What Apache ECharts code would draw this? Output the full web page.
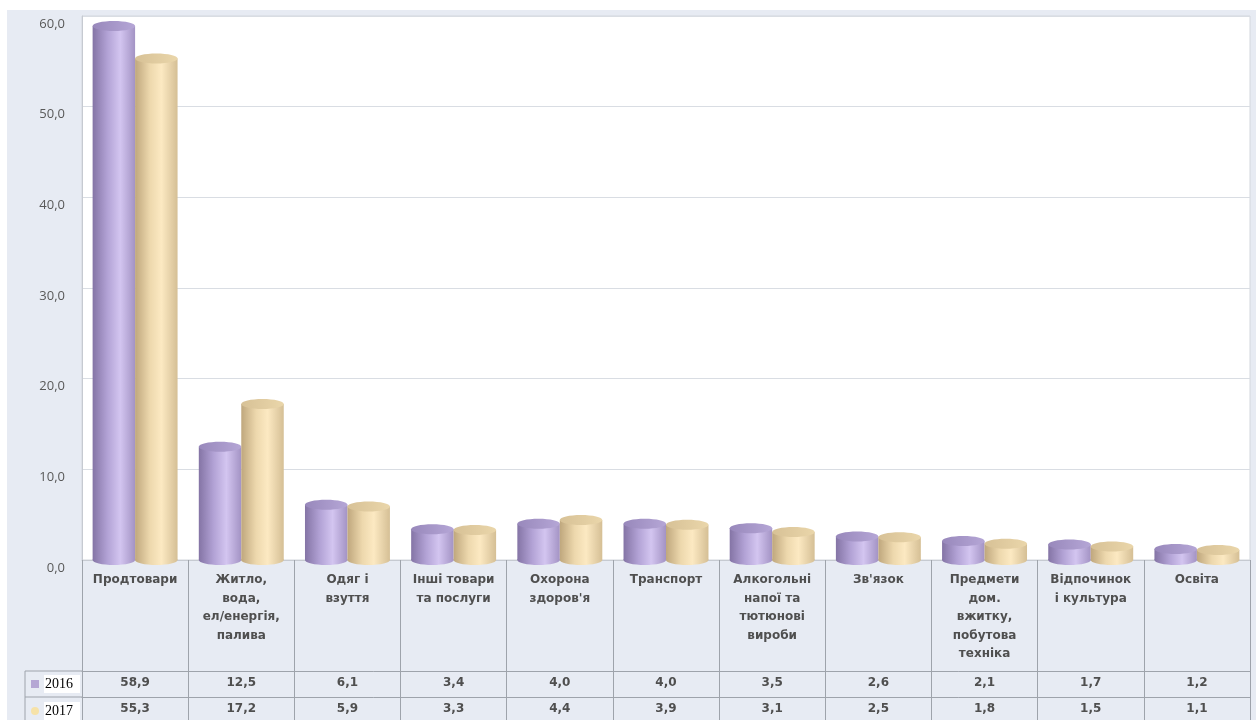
<!DOCTYPE html>
<html>
<head>
<meta charset="utf-8">
<script src="https://cdn.jsdelivr.net/npm/echarts@6/dist/echarts.min.js"></script>
<style>
    html, body { margin: 0; padding: 0; background: #fff; }
    #chart { position: absolute; left: 7px; top: 10px; width: 1249px; height: 710px; background: #e7ebf3; }
</style>
</head>
<body>
<div id="chart"></div>
<script>
const categories = [
    'Продтовари',
    'Житло,\nвода,\nел/енергія,\nпалива',
    'Одяг і\nвзуття',
    'Інші товари\nта послуги',
    'Охорона\nздоров\'я',
    'Транспорт',
    'Алкогольні\nнапої та\nтютюнові\nвироби',
    'Зв\'язок',
    'Предмети\nдом.\nвжитку,\nпобутова\nтехніка',
    'Відпочинок\nі культура',
    'Освіта'
]
const data2016 = [58.9, 12.5, 6.1, 3.4, 4.0, 4.0, 3.5, 2.6, 2.1, 1.7, 1.2]
const data2017 = [55.3, 17.2, 5.9, 3.3, 4.4, 3.9, 3.1, 2.5, 1.8, 1.5, 1.1]
const yTicks = [0, 10, 20, 30, 40, 50, 60]

const fmt = v => v.toFixed(1).replace('.', ',')
const lineColor = '#9ea3ab'
const font = 'DejaVu Sans'

const purple = {
    body: [
        {offset: 0, color: '#8474a5'},
        {offset: 0.35, color: '#b2a2d5'},
        {offset: 0.65, color: '#d3c5f0'},
        {offset: 1, color: '#a393c4'}
    ],
    top: ['#9888bb', '#b5a6d6'],
    legend: '#b5a7d4'
}
const yellow = {
    body: [
        {offset: 0, color: '#bfa77d'},
        {offset: 0.35, color: '#edd8ad'},
        {offset: 0.62, color: '#fce9c2'},
        {offset: 1, color: '#d5bf95'}
    ],
    top: ['#d7c196', '#ead6aa'],
    legend: '#f6e2a8'
}

// cylinder bar drawn from the axis coords
function cylinder(slot, pal) {
    return function (params, api) {
        const i = api.value(0), v = api.value(1)
        const base = api.coord([i, 0])
        const top = api.coord([i, v])
        const band = api.size([1, 0])[0]
        const w = band * 0.4
        const x = base[0] - band * 0.4 + slot * w
        const ry = 5
        const bodyFill = new echarts.graphic.LinearGradient(0, 0, 1, 0, pal.body)
        return {
            type: 'group',
            children: [
                {type: 'ellipse', shape: {cx: x + w / 2, cy: base[1], rx: w / 2, ry: ry}, style: {fill: bodyFill}},
                {type: 'rect', shape: {x: x, y: top[1], width: w, height: base[1] - top[1]}, style: {fill: bodyFill}},
                {type: 'ellipse', shape: {cx: x + w / 2, cy: top[1], rx: w / 2, ry: ry},
                    style: {fill: new echarts.graphic.LinearGradient(0, 0, 1, 0, [
                        {offset: 0, color: pal.top[0]}, {offset: 1, color: pal.top[1]}
                    ])}}
            ]
        }
    }
}

const chart = echarts.init(document.getElementById('chart'))

const option = {
    animation: false,
    grid: {
        left: 75, right: 6, top: 6, bottom: 160,
        show: true, backgroundColor: '#fff', borderColor: '#d3d7dd', borderWidth: 1
    },
    legend: [
        {
            data: ['2016'], left: 24, top: 665, padding: 0,
            icon: 'rect', itemWidth: 8, itemHeight: 8,
            textStyle: {fontFamily: 'Liberation Serif', fontSize: 14, color: '#000', backgroundColor: '#fff',
                padding: [1, 7, 1, 1], lineHeight: 16}
        },
        {
            data: ['2017'], left: 24, top: 692, padding: 0,
            icon: 'circle', itemWidth: 8, itemHeight: 8,
            textStyle: {fontFamily: 'Liberation Serif', fontSize: 14, color: '#000', backgroundColor: '#fff',
                padding: [1, 7, 1, 1], lineHeight: 16}
        }
    ],
    xAxis: [
        {
            type: 'category', data: categories, position: 'bottom',
            axisLine: {show: true, lineStyle: {color: '#c6cad1'}},
            axisTick: {show: true, length: 163, interval: 0, lineStyle: {color: lineColor}},
            axisLabel: {interval: 0, margin: 11, lineHeight: 18.5, color: '#4f4f4f',
                fontFamily: font, fontSize: 12, fontWeight: 'bold'}
        },
        {
            type: 'category', data: categories, position: 'bottom', offset: 111,
            axisLine: {show: true, lineStyle: {color: lineColor}},
            axisTick: {show: false},
            axisLabel: {interval: 0, margin: 6, color: '#4f4f4f', fontFamily: font, fontSize: 12, fontWeight: 'bold',
                formatter: (v, idx) => fmt(data2016[idx])}
        },
        {
            type: 'category', data: categories, position: 'bottom', offset: 137,
            axisLine: {show: true, lineStyle: {color: lineColor}},
            axisTick: {show: false},
            axisLabel: {interval: 0, margin: 6, color: '#4f4f4f', fontFamily: font, fontSize: 12, fontWeight: 'bold',
                formatter: (v, idx) => fmt(data2017[idx])}
        }
    ],
    yAxis: {
        type: 'value',
        min: yTicks[0], max: yTicks[yTicks.length - 1], interval: 10,
        axisLine: {show: true, lineStyle: {color: '#c6cad1'}},
        axisTick: {show: false},
        splitLine: {lineStyle: {color: '#d9dde3'}},
        axisLabel: {margin: 17, color: '#595959', fontFamily: 'Open Sans', fontSize: 13,
            verticalAlign: 'top', lineHeight: 16, formatter: v => fmt(v)}
    },
    graphic: [
        {type: 'line', shape: {x1: 18, y1: 661, x2: 75, y2: 661}, style: {stroke: lineColor, lineWidth: 1}},
        {type: 'line', shape: {x1: 18, y1: 687, x2: 75, y2: 687}, style: {stroke: lineColor, lineWidth: 1}},
        {type: 'line', shape: {x1: 18, y1: 661, x2: 18, y2: 712}, style: {stroke: lineColor, lineWidth: 1}}
    ],
    series: [
        {
            name: '2016', type: 'custom', xAxisIndex: 0,
            itemStyle: {color: purple.legend},
            renderItem: cylinder(0, purple),
            encode: {x: 0, y: 1},
            data: data2016.map((v, i) => [i, v])
        },
        {
            name: '2017', type: 'custom', xAxisIndex: 0,
            itemStyle: {color: yellow.legend},
            renderItem: cylinder(1, yellow),
            encode: {x: 0, y: 1},
            data: data2017.map((v, i) => [i, v])
        }
    ]
}

chart.setOption(option)
</script>
</body>
</html>
